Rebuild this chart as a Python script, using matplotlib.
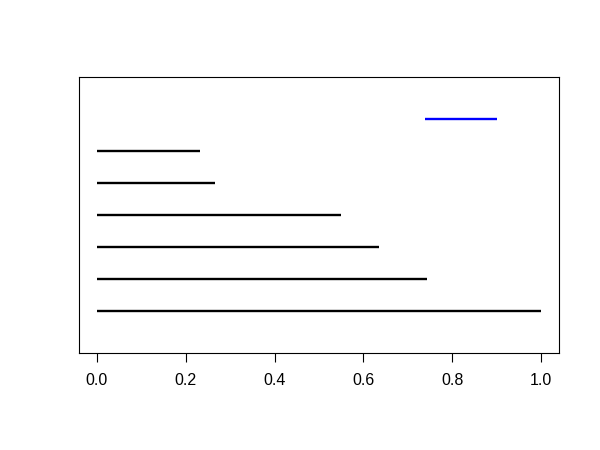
import matplotlib
matplotlib.use("Agg")
import matplotlib.pyplot as plt

# Data
levels = [1, 2, 3, 4, 5, 6]
starts = [0.0, 0.0, 0.0, 0.0, 0.0, 0.0]
ends = [1.0, 0.742, 0.635, 0.549, 0.267, 0.233]
blue_level = 7
blue_start = 0.738
blue_end = 0.901
xticks = [0.0, 0.2, 0.4, 0.6, 0.8, 1.0]
xticklabels = ["0.0", "0.2", "0.4", "0.6", "0.8", "1.0"]

plt.rcParams['font.family'] = ['Liberation Sans', 'DejaVu Sans']

fig = plt.figure(figsize=(6, 4.5), dpi=100)
ax = fig.add_axes([79/600, 1-353/450, 480/600, 276/450])

ax.hlines(levels, starts, ends, colors='black', linewidth=1.7)
ax.hlines([blue_level], [blue_start], [blue_end], colors='blue', linewidth=1.7)

ax.set_xlim(-0.04, 1.04)
ax.set_ylim(-0.32, 8.32)
ax.set_xticks(xticks)
ax.set_xticklabels(xticklabels, fontsize=11.5)
ax.set_yticks([])
ax.tick_params(axis='x', length=6.5, width=0.8, pad=8)
for s in ax.spines.values():
    s.set_linewidth(0.8)
    s.set_color('black')

fig.savefig("out.png", dpi=100)
